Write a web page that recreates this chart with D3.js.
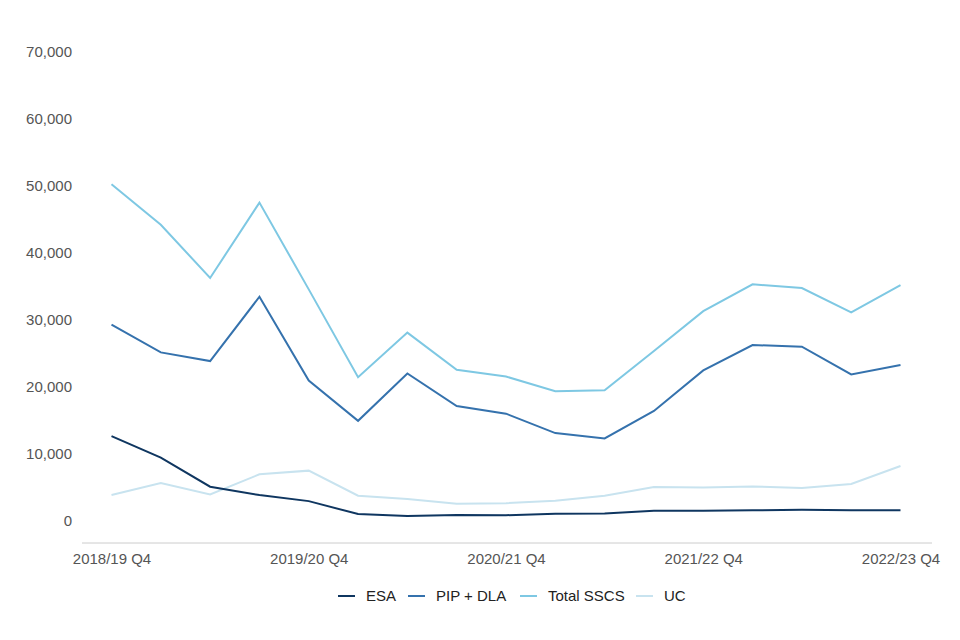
<!DOCTYPE html>
<html>
<head>
<meta charset="utf-8">
<script src="https://cdn.jsdelivr.net/npm/d3@7"></script>
<style>
  body { margin: 0; background: #fff; }
  text { font-family: "Liberation Sans", Arial, sans-serif; }
</style>
</head>
<body>
<div id="canvas"></div>
<script>
// quarters, 2018/19 Q4 to 2022/23 Q4
const quarters = [
  '2018/19 Q4', '2019/20 Q1', '2019/20 Q2', '2019/20 Q3', '2019/20 Q4',
  '2020/21 Q1', '2020/21 Q2', '2020/21 Q3', '2020/21 Q4',
  '2021/22 Q1', '2021/22 Q2', '2021/22 Q3', '2021/22 Q4',
  '2022/23 Q1', '2022/23 Q2', '2022/23 Q3', '2022/23 Q4'
];
const tickQuarters = ['2018/19 Q4', '2019/20 Q4', '2020/21 Q4', '2021/22 Q4', '2022/23 Q4'];
const yTicks = [0, 10000, 20000, 30000, 40000, 50000, 60000, 70000];

const esa = [12600, 9400, 5050, 3800, 2900, 970, 670, 820, 800, 1000, 1050, 1450, 1480, 1520, 1600, 1530, 1540];
const pipDla = [29250, 25100, 23800, 33400, 20900, 14880, 21950, 17100, 15950, 13050, 12250, 16350, 22400, 26200, 25950, 21800, 23200];
const totalSscs = [50200, 44150, 36200, 47450, 34500, 21400, 28050, 22500, 21500, 19300, 19450, 25300, 31250, 35250, 34700, 31050, 35150];
const uc = [3800, 5600, 3900, 6900, 7450, 3700, 3200, 2500, 2600, 2950, 3700, 5000, 4950, 5100, 4850, 5450, 8150];

const seriesNames = ['ESA', 'PIP + DLA', 'Total SSCS', 'UC'];
const seriesColors = ['#0f3660', '#3572ad', '#7ec8e3', '#c8e3ef'];

const series = [esa, pipDla, totalSscs, uc].map(function(vals, i){
  return { name: seriesNames[i], color: seriesColors[i], values: vals };
});

const svg = d3.select('#canvas').append('svg')
  .attr('width', 960)
  .attr('height', 640);

const x = d3.scalePoint()
  .domain(quarters)
  .range([111.5, 900.5]);

// domain goes a little below zero so the axis line sits under the 0 label
const y = d3.scaleLinear()
  .domain([-3350, 70000])
  .range([543, 51.5]);

// y labels, no gridlines
svg.append('g')
  .selectAll('text')
  .data(yTicks)
  .enter()
  .append('text')
  .attr('x', 72)
  .attr('y', function(d){ return y(d); })
  .attr('dy', '0.35em')
  .attr('text-anchor', 'end')
  .attr('font-size', 15)
  .attr('fill', '#555')
  .text(function(d){ return d3.format(',')(d); });

// x axis
const xAxis = svg.append('g')
  .attr('transform', 'translate(0,' + y(-3350) + ')')
  .call(d3.axisBottom(x).tickValues(tickQuarters).tickSize(0).tickPadding(10));
xAxis.select('.domain').remove();
xAxis.selectAll('text')
  .attr('font-size', 15)
  .attr('fill', '#555')
  .style('font-family', '"Liberation Sans", Arial, sans-serif');

svg.append('line')
  .attr('x1', 82).attr('x2', 932)
  .attr('y1', y(-3350)).attr('y2', y(-3350))
  .attr('stroke', '#cccccc')
  .attr('stroke-width', 1);

const line = d3.line()
  .x(function(d, i){ return x(quarters[i]); })
  .y(function(d){ return y(d); });

// draw UC first so the darker lines sit on top
svg.selectAll('.series')
  .data(series.slice().reverse())
  .enter()
  .append('path')
  .attr('class', 'series')
  .attr('d', function(d){ return line(d.values); })
  .attr('fill', 'none')
  .attr('stroke', function(d){ return d.color; })
  .attr('stroke-width', 2);

// legend
const legendX = [338, 408, 520, 636];
const legend = svg.selectAll('.legend')
  .data(series)
  .enter()
  .append('g')
  .attr('class', 'legend')
  .attr('transform', function(d, i){ return 'translate(' + legendX[i] + ',596)'; });

legend.append('line')
  .attr('x1', 0).attr('x2', 17)
  .attr('y1', 0).attr('y2', 0)
  .attr('stroke', function(d){ return d.color; })
  .attr('stroke-width', 2);

legend.append('text')
  .attr('x', 28)
  .attr('dy', '0.35em')
  .attr('font-size', 15)
  .attr('fill', '#222')
  .text(function(d){ return d.name; });
</script>
</body>
</html>
